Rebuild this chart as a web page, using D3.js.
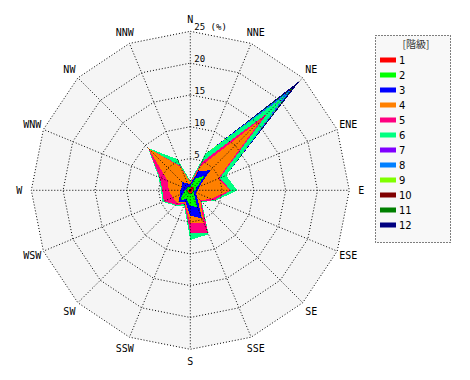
<!DOCTYPE html>
<html><head><meta charset="utf-8">
<script src="https://cdn.jsdelivr.net/npm/d3@7"></script>
<style>body{margin:0;background:#fff}svg{display:block}</style>
</head><body><svg id="c" width="470" height="380"></svg>
<script>
const directions = ["N","NNE","NE","ENE","E","ESE","SE","SSE","S","SSW","SW","WSW","W","WNW","NW","NNW"];
const classes = ["1","2","3","4","5","6","7","8","9","10","11","12"];
const colors = ["#ff0000","#00ff00","#0000ff","#ff8000","#ff0080","#00ff80","#8000ff","#0080ff","#80ff00","#800000","#008000","#000080"];
const ringTicks = [5,10,15,20,25];
// frequency (%) per class, per direction N..NNW
const c1  = [0.3,0.5,0.8,0.5,0.4,0.3,0.3,0.5,0.5,0.4,0.4,0.4,0.4,0.3,0.4,0.3];
const c2  = [0.3,1.5,2.5,0.5,0.4,0.3,0.5,2.3,2.0,1.1,1.8,0.8,0.4,0.3,0.4,0.3];
const c3  = [0.4,1.2,1.2,0.5,0.4,0.3,0.7,2.0,1.5,0.5,0.3,0.6,0.8,0.8,1.0,0.6];
const c4  = [0.2,0.8,11.5,3.2,5.0,2.6,0.7,0.7,1.2,0.2,0.3,1.2,1.8,2.4,7.5,2.8];
const c5  = [0.1,0.8,1.2,0.3,0.2,0.6,0.2,1.8,1.5,0.2,0.4,1.5,1.0,1.4,0.0,0.2];
const c6  = [0.2,1.4,3.8,1.1,1.0,0.2,0.2,0.2,1.1,0.2,0.2,0.2,0.2,0.2,0.1,1.1];
const c7  = [0,0,0.2,0,0,0,0,0,0,0,0,0,0,0,0,0];
const c8  = [0,0,1.2,0,0,0,0,0,0,0,0,0,0,0,0,0];
const c9  = [0,0,0.1,0,0,0,0,0,0,0,0,0,0,0,0,0];
const c10 = [0,0,0.1,0,0,0,0,0,0,0,0,0,0,0,0,0];
const c11 = [0,0,0.4,0,0,0,0,0,0,0,0,0,0,0,0,0];
const c12 = [0,0,1.5,0,0,0,0,0,0,0,0,0,0,0,0,0];
const series = [c1,c2,c3,c4,c5,c6,c7,c8,c9,c10,c11,c12];

const cx = 190.3, cy = 190.3, R = 159;
const svg = d3.select("#c");
const g = svg.append("g").attr("transform", `translate(${cx},${cy})`);
const r = d3.scaleLinear().domain([0,25]).range([0,R]);
const ang = d3.scaleLinear().domain([0,16]).range([0,2*Math.PI]);
const n = directions.length;

// background
const ringLine = d3.lineRadial().angle((d,i)=>ang(i)).radius(d=>r(d)).curve(d3.curveLinearClosed);
g.append("path").attr("d", ringLine(d3.range(n).map(()=>25))).attr("fill","#f5f5f5");

// cumulative stacks
const cum = [];
let acc = new Array(n).fill(0);
series.forEach(s=>{ acc = acc.map((v,i)=>v+s[i]); cum.push(acc.slice()); });
for (let k = cum.length-1; k>=0; k--) {
  g.append("path").attr("d", ringLine(cum[k])).attr("fill", colors[k]).attr("stroke","none").attr("shape-rendering","crispEdges");
}

// grid
ringTicks.forEach(t=>{
  g.append("path").attr("d", ringLine(d3.range(n).map(()=>t))).attr("fill","none")
   .attr("stroke","#000").attr("stroke-width",1).attr("stroke-dasharray","1,2");
});
directions.forEach((d,i)=>{
  const a = ang(i);
  g.append("line").attr("x1",0).attr("y1",0).attr("x2",r(25)*Math.sin(a)).attr("y2",-r(25)*Math.cos(a))
   .attr("stroke","#000").attr("stroke-width",1).attr("stroke-dasharray","1,2");
  g.append("text").attr("x",171*Math.sin(a)).attr("y",-171*Math.cos(a)+3.5)
   .attr("text-anchor","middle").attr("font-family","DejaVu Sans Mono").attr("font-size",10).attr("fill","#000").text(d);
});
ringTicks.forEach(t=>{
  g.append("text").attr("x",4).attr("y",-r(t)-1).attr("font-family","DejaVu Sans Mono").attr("font-size",9)
   .attr("fill","#000").text(t===25 ? "25 (%)" : String(t));
});

// legend
const lg = svg.append("g");
lg.append("rect").attr("x",375.5).attr("y",35.5).attr("width",75).attr("height",207).attr("fill","#f8f8f8")
  .attr("stroke","#000").attr("stroke-dasharray","1,2");
lg.append("text").attr("x",416).attr("y",47.5).attr("text-anchor","middle").attr("font-family","Noto Sans CJK JP").attr("font-size",10).attr("fill","#333").text("[階級]");
classes.forEach((c,i)=>{
  const y = 60 + 15*i;
  lg.append("rect").attr("x",380).attr("y",y-2.5).attr("width",16).attr("height",5).attr("fill",colors[i]);
  lg.append("text").attr("x",399).attr("y",y+4).attr("font-family","DejaVu Sans").attr("font-size",10).attr("fill","#000").text(c);
});
</script></body></html>
